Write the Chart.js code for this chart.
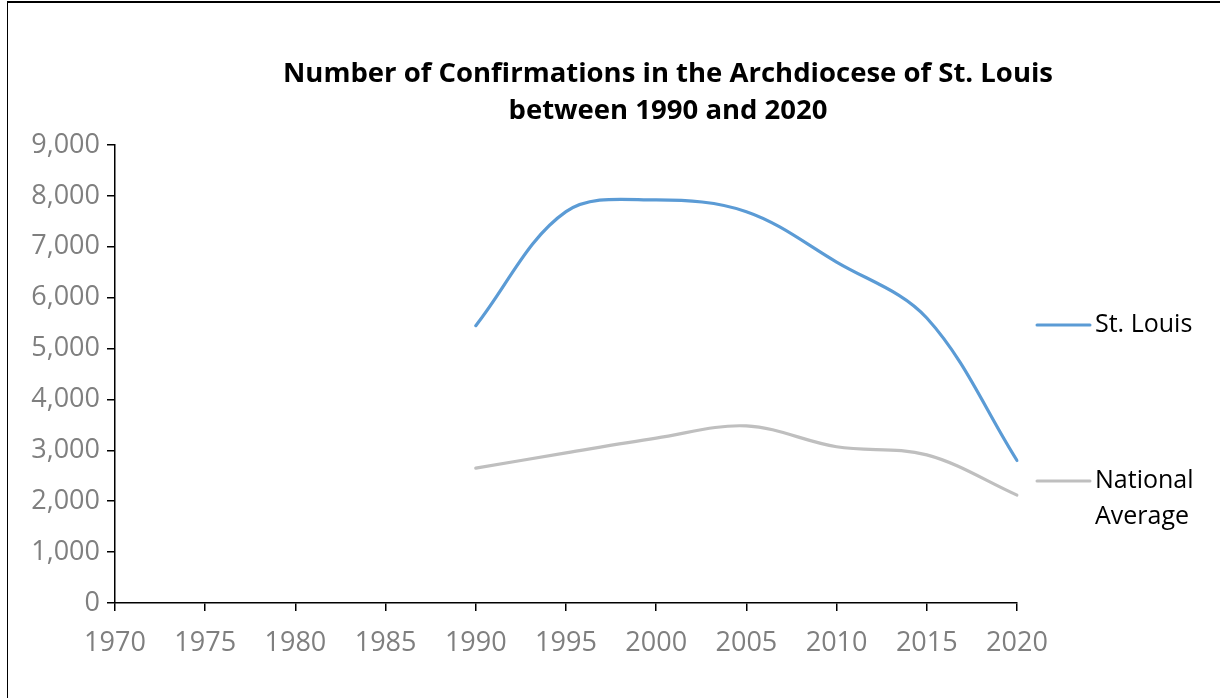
<!DOCTYPE html>
<html>
<head>
<meta charset="utf-8">
<script src="https://cdn.jsdelivr.net/npm/chart.js@4.4.0/dist/chart.umd.min.js"></script>
<style>
  html, body { margin: 0; padding: 0; background: #fff; }
  #wrap { position: relative; width: 1220px; height: 698px; overflow: hidden; }
  #frame { position: absolute; left: 7px; top: 1px; right: -10px; bottom: -10px;
           border-left: 1px solid #000; border-top: 2px solid #000; pointer-events: none; }
  canvas { position: absolute; left: 0; top: 0; }
</style>
</head>
<body>
<div id="wrap">
  <canvas id="lineChart" width="1220" height="698"></canvas>
  <div id="frame"></div>
</div>
<script>
// categories (years) and values
var years = ['1970', '1975', '1980', '1985', '1990', '1995', '2000', '2005', '2010', '2015', '2020'];
var stLouis = [null, null, null, null, 5450, 7690, 7920, 7690, 6700, 5600, 2800];
var national = [null, null, null, null, 2650, 2950, 3240, 3480, 3070, 2910, 2120];
var titleLines = ['Number of Confirmations in the Archdiocese of St. Louis', 'between 1990 and 2020'];
var legendLabels = [['St. Louis'], ['National', 'Average']];

var FONT = "'Open Sans', 'Liberation Sans', sans-serif";

// title + legend drawn by hand: the title sits off-centre from the plot and
// "National Average" wraps onto two lines like the original
var decorations = {
  id: 'decorations',
  afterDraw: function(chart) {
    var ctx = chart.ctx;
    var area = chart.chartArea;
    ctx.save();

    ctx.fillStyle = '#000';
    ctx.textAlign = 'center';
    ctx.textBaseline = 'middle';
    ctx.font = 'bold 27.5px ' + FONT;
    titleLines.forEach(function(t, i) {
      ctx.fillText(t, 668, 74 + i * 37);
    });

    var x0 = area.right + 20;
    var rows = [area.top + 180, area.top + 336];
    ctx.font = '25px ' + FONT;
    ctx.textAlign = 'left';
    chart.data.datasets.forEach(function(ds, i) {
      var y = rows[i];
      ctx.strokeStyle = ds.borderColor;
      ctx.lineWidth = 3;
      ctx.lineCap = 'round';
      ctx.beginPath();
      ctx.moveTo(x0, y);
      ctx.lineTo(x0 + 53, y);
      ctx.stroke();
      ctx.fillStyle = '#000';
      legendLabels[i].forEach(function(t, j) {
        ctx.fillText(t, x0 + 58, y + j * 36);
      });
    });
    ctx.restore();
  }
};

var ctx = document.getElementById('lineChart');
var lineChart = new Chart(ctx, {
  type: 'line',
  data: {
    labels: years,
    datasets: [{
      label: 'St. Louis',
      data: stLouis,
      borderColor: '#5B9BD5',
      backgroundColor: '#5B9BD5',
      borderWidth: 3.2,
      borderCapStyle: 'round',
      pointRadius: 0,
      tension: 0.35,
      fill: false
    }, {
      label: 'National Average',
      data: national,
      borderColor: '#BFBFBF',
      backgroundColor: '#BFBFBF',
      borderWidth: 3.2,
      borderCapStyle: 'round',
      pointRadius: 0,
      tension: 0.35,
      fill: false
    }]
  },
  options: {
    responsive: false,
    animation: false,
    layout: { padding: { left: 0, right: 203, top: 145, bottom: 0 } },
    plugins: {
      legend: { display: false },
      tooltip: { enabled: false },
      title: { display: false }
    },
    scales: {
      x: {
        offset: false,
        grid: { display: true, drawOnChartArea: false, drawTicks: true, tickLength: 8, color: '#000', lineWidth: 1.5 },
        border: { display: true, color: '#000', width: 1.5 },
        ticks: { color: '#7F7F7F', font: { family: FONT, size: 27 }, padding: 16, maxRotation: 0, autoSkip: false },
        afterFit: function(scale) { scale.height = 95; }
      },
      y: {
        min: 0,
        max: 9000,
        grid: { display: true, drawOnChartArea: false, drawTicks: true, tickLength: 8, color: '#000', lineWidth: 1.5 },
        border: { display: true, color: '#000', width: 1.5 },
        ticks: {
          stepSize: 1000,
          color: '#7F7F7F',
          font: { family: FONT, size: 27 },
          padding: 7,
          callback: function(v) { return v.toLocaleString('en-US'); }
        },
        afterFit: function(scale) { scale.width = 115; }
      }
    }
  },
  plugins: [decorations]
});
</script>
</body>
</html>
